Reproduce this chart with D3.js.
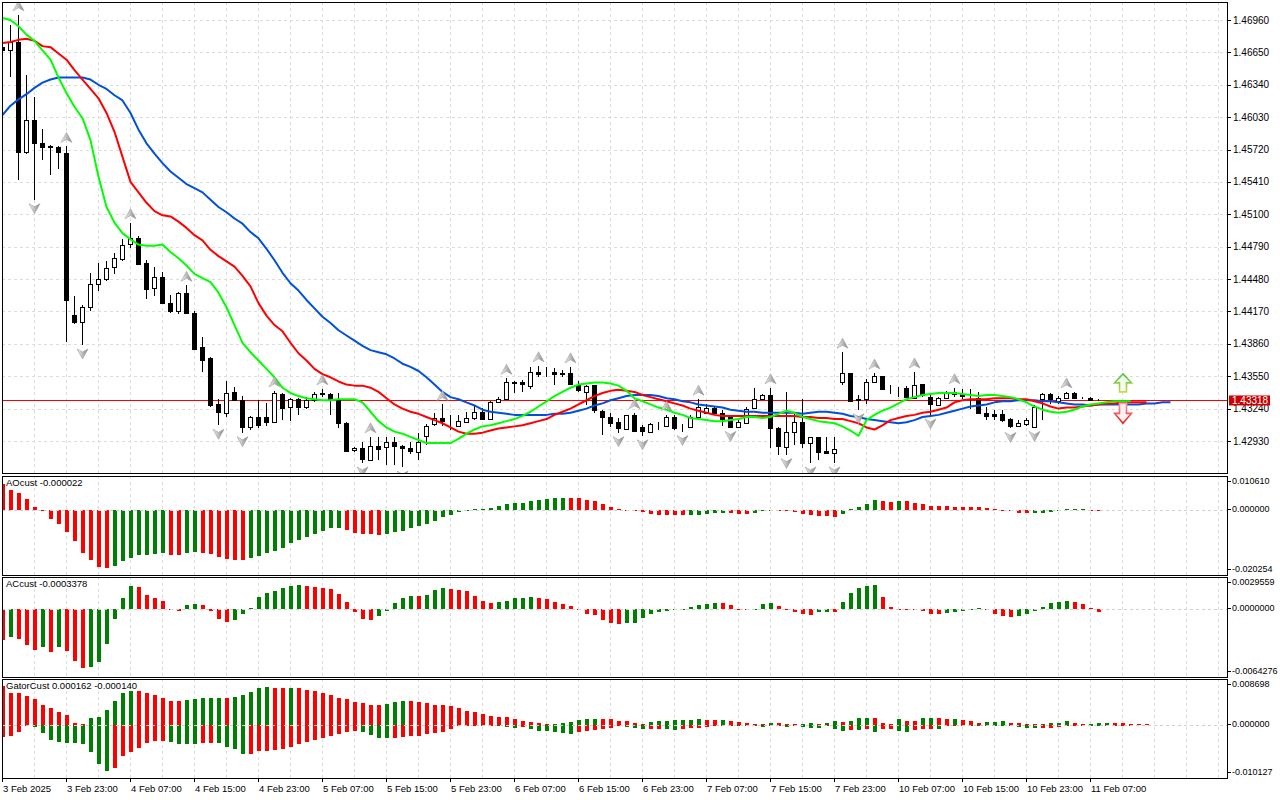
<!DOCTYPE html>
<html>
<head>
<meta charset="utf-8">
<script src="https://cdn.jsdelivr.net/npm/d3@7"></script>
<style>
  html, body { margin: 0; padding: 0; background: #fff; }
  svg { display: block; font-family: "Liberation Sans", Arial, sans-serif; }
</style>
</head>
<body>
<svg id="chart" width="1280" height="800"></svg>
<script>
// hourly bars, 3 Feb 15:00 .. 11 Feb 08:00
const open = [
  1.4670,1.4667,1.4675,1.4569,1.4600,1.4578,1.4575,1.4574,1.4569,1.4414,
  1.4407,1.4421,1.4443,1.4448,1.4459,1.4468,1.4481,1.4487,1.4463,1.4439,
  1.4450,1.4425,1.4418,1.4435,1.4416,1.4383,1.4372,1.4328,1.4320,1.4340,
  1.4332,1.4306,1.4316,1.4316,1.4311,1.4338,1.4325,1.4333,1.4325,1.4332,
  1.4338,1.4338,1.4332,1.4310,1.4284,1.4286,1.4275,1.4288,1.4287,1.4292,
  1.4288,1.4286,1.4282,1.4297,1.4309,1.4315,1.4313,1.4307,1.4311,1.4315,
  1.4321,1.4314,1.4330,1.4333,1.4349,1.4349,1.4346,1.4359,1.4359,1.4359,
  1.4358,1.4358,1.4347,1.4340,1.4347,1.4322,1.4316,1.4311,1.4305,1.4318,
  1.4306,1.4301,1.4308,1.4307,1.4316,1.4307,1.4306,1.4316,1.4320,1.4325,
  1.4320,1.4317,1.4306,1.4311,1.4324,1.4333,1.4337,1.4305,1.4288,1.4301,
  1.4311,1.4291,1.4297,1.4283,1.4281,1.4349,1.4358,1.4333,1.4333,1.4349,
  1.4355,1.4343,1.4344,1.4344,1.4335,1.4348,1.4335,1.4327,1.4334,1.4340,
  1.4338,1.4334,1.4334,1.4320,1.4319,1.4319,1.4314,1.4307,1.4309,1.4307,
  1.4333,1.4338,1.4331,1.4334,1.4339,1.4334,1.4334,1.4332
];
const high = [
  1.4675,1.4691,1.4701,1.4643,1.4622,1.4592,1.4576,1.4575,1.4575,1.4432,
  1.4423,1.4454,1.4463,1.4465,1.4473,1.4486,1.4502,1.4489,1.4466,1.4460,
  1.4455,1.4433,1.4436,1.4442,1.4417,1.4393,1.4373,1.4333,1.4350,1.4345,
  1.4336,1.4317,1.4332,1.4329,1.4341,1.4339,1.4334,1.4334,1.4335,1.4340,
  1.4343,1.4339,1.4339,1.4311,1.4287,1.4292,1.4297,1.4297,1.4297,1.4297,
  1.4289,1.4292,1.4301,1.4309,1.4320,1.4328,1.4318,1.4318,1.4321,1.4327,
  1.4325,1.4331,1.4335,1.4353,1.4350,1.4351,1.4364,1.4365,1.4364,1.4363,
  1.4361,1.4364,1.4350,1.4347,1.4347,1.4323,1.4320,1.4315,1.4318,1.4320,
  1.4308,1.4310,1.4311,1.4318,1.4318,1.4309,1.4318,1.4333,1.4328,1.4326,
  1.4323,1.4318,1.4313,1.4326,1.4344,1.4338,1.4344,1.4306,1.4340,1.4321,
  1.4333,1.4297,1.4297,1.4297,1.4297,1.4378,1.4358,1.4337,1.4352,1.4358,
  1.4355,1.4347,1.4345,1.4346,1.4359,1.4348,1.4337,1.4335,1.4341,1.4344,
  1.4343,1.4343,1.4340,1.4326,1.4323,1.4323,1.4315,1.4313,1.4315,1.4327,
  1.4339,1.4339,1.4336,1.4340,1.4340,1.4335,1.4335,1.4333
];
const low = [
  1.4665,1.4641,1.4543,1.4568,1.4524,1.4562,1.4548,1.4553,1.4388,1.4405,
  1.4385,1.4417,1.4437,1.4446,1.4453,1.4465,1.4478,1.4461,1.4429,1.4432,
  1.4424,1.4416,1.4415,1.4415,1.4380,1.4359,1.4326,1.4308,1.4316,1.4331,
  1.4301,1.4304,1.4305,1.4307,1.4310,1.4313,1.4312,1.4318,1.4324,1.4330,
  1.4335,1.4318,1.4305,1.4282,1.4282,1.4272,1.4274,1.4275,1.4270,1.4270,
  1.4268,1.4281,1.4275,1.4289,1.4307,1.4307,1.4304,1.4306,1.4310,1.4313,
  1.4313,1.4313,1.4329,1.4332,1.4339,1.4340,1.4343,1.4354,1.4354,1.4347,
  1.4354,1.4347,1.4340,1.4327,1.4320,1.4299,1.4306,1.4301,1.4305,1.4303,
  1.4298,1.4301,1.4304,1.4307,1.4304,1.4302,1.4306,1.4315,1.4320,1.4318,
  1.4307,1.4306,1.4306,1.4311,1.4324,1.4333,1.4286,1.4280,1.4280,1.4289,
  1.4286,1.4272,1.4275,1.4281,1.4272,1.4347,1.4330,1.4323,1.4328,1.4349,
  1.4343,1.4338,1.4335,1.4335,1.4335,1.4335,1.4318,1.4327,1.4334,1.4335,
  1.4333,1.4324,1.4320,1.4313,1.4313,1.4311,1.4305,1.4307,1.4307,1.4306,
  1.4313,1.4328,1.4328,1.4334,1.4334,1.4333,1.4331,1.4331
];
const close = [
  1.4667,1.4675,1.4570,1.4600,1.4578,1.4574,1.4574,1.4569,1.4428,1.4407,
  1.4421,1.4443,1.4448,1.4459,1.4468,1.4481,1.4487,1.4462,1.4438,1.4450,
  1.4425,1.4417,1.4435,1.4416,1.4382,1.4371,1.4327,1.4320,1.4339,1.4332,
  1.4306,1.4316,1.4308,1.4311,1.4339,1.4325,1.4333,1.4325,1.4332,1.4338,
  1.4339,1.4332,1.4310,1.4283,1.4286,1.4275,1.4288,1.4285,1.4292,1.4288,
  1.4286,1.4283,1.4292,1.4307,1.4315,1.4312,1.4313,1.4312,1.4315,1.4321,
  1.4314,1.4330,1.4333,1.4349,1.4348,1.4347,1.4359,1.4357,1.4359,1.4357,
  1.4357,1.4347,1.4342,1.4346,1.4323,1.4316,1.4310,1.4305,1.4318,1.4303,
  1.4302,1.4309,1.4308,1.4316,1.4305,1.4307,1.4316,1.4326,1.4325,1.4320,
  1.4314,1.4306,1.4311,1.4324,1.4333,1.4337,1.4305,1.4288,1.4302,1.4311,
  1.4291,1.4297,1.4283,1.4281,1.4285,1.4358,1.4331,1.4332,1.4349,1.4355,
  1.4343,1.4343,1.4344,1.4335,1.4347,1.4337,1.4328,1.4334,1.4340,1.4338,
  1.4336,1.4334,1.4320,1.4317,1.4317,1.4313,1.4307,1.4310,1.4313,1.4326,
  1.4338,1.4333,1.4334,1.4339,1.4334,1.4334,1.4332,1.43318
];

// alligator lines (shifted forward past the last bar)
const jaw = [
  1.4605,1.4614,1.4620,1.4625,1.4631,1.4636,1.4639,1.4641,1.4641,1.4641,
  1.4641,1.4639,1.4634,1.4630,1.4624,1.4619,1.4607,1.4591,1.4578,1.4568,
  1.4559,1.4551,1.4545,1.4539,1.4535,1.4531,1.4524,1.4517,1.4512,1.4506,
  1.4501,1.4493,1.4487,1.4477,1.4466,1.4454,1.4444,1.4437,1.4428,1.4420,
  1.4412,1.4406,1.4399,1.4394,1.4389,1.4384,1.4380,1.4378,1.4376,1.4372,
  1.4367,1.4364,1.4360,1.4354,1.4347,1.4340,1.4335,1.4333,1.4330,1.4327,
  1.4323,1.4321,1.4320,1.4319,1.4318,1.4318,1.4318,1.4318,1.4318,1.4319,
  1.4319,1.4320,1.4322,1.4324,1.4327,1.4329,1.4332,1.4334,1.4336,1.4337,
  1.4337,1.4337,1.4336,1.4334,1.4333,1.4331,1.4330,1.4328,1.4327,1.4326,
  1.4325,1.4323,1.4322,1.4321,1.4321,1.4320,1.4320,1.4320,1.4320,1.4320,
  1.4319,1.4320,1.4321,1.4321,1.4320,1.4319,1.4317,1.4316,1.4314,1.4313,
  1.4312,1.4311,1.4310,1.4311,1.4313,1.4316,1.4317,1.4318,1.4320,1.4322,
  1.4324,1.4326,1.4327,1.4328,1.4330,1.4331,1.4331,1.4332,1.4332,1.4332,
  1.4331,1.4331,1.4330,1.4329,1.4328,1.4328,1.4327,1.4328,1.4328,1.4328,
  1.4328,1.4328,1.4328,1.4329,1.4329,1.4330,1.4330
];
const teeth = [
  1.4674,1.4675,1.4677,1.4678,1.4676,1.4671,1.4670,1.4664,1.4658,1.4648,
  1.4639,1.4630,1.4621,1.4607,1.4589,1.4565,1.4541,1.4531,1.4521,1.4513,
  1.4509,1.4508,1.4503,1.4497,1.4490,1.4485,1.4476,1.4470,1.4465,1.4460,
  1.4451,1.4441,1.4425,1.4413,1.4404,1.4398,1.4387,1.4377,1.4370,1.4362,
  1.4357,1.4354,1.4350,1.4347,1.4346,1.4346,1.4344,1.4340,1.4334,1.4328,
  1.4324,1.4321,1.4319,1.4316,1.4313,1.4310,1.4306,1.4302,1.4300,1.4300,
  1.4301,1.4303,1.4305,1.4306,1.4307,1.4308,1.4310,1.4312,1.4314,1.4318,
  1.4321,1.4324,1.4328,1.4332,1.4336,1.4339,1.4341,1.4342,1.4341,1.4340,
  1.4337,1.4335,1.4333,1.4331,1.4329,1.4327,1.4324,1.4322,1.4320,1.4318,
  1.4317,1.4317,1.4317,1.4317,1.4317,1.4317,1.4317,1.4317,1.4317,1.4317,
  1.4316,1.4316,1.4315,1.4315,1.4314,1.4314,1.4312,1.4310,1.4306,1.4304,
  1.4308,1.4313,1.4315,1.4317,1.4318,1.4320,1.4321,1.4323,1.4325,1.4330,
  1.4332,1.4333,1.4333,1.4333,1.4334,1.4334,1.4334,1.4333,1.4333,1.4331,
  1.4329,1.4326,1.4324,1.4325,1.4325,1.4326,1.4327,1.4328,1.4329,1.4329,
  1.4330,1.4330,1.4330,1.4330
];
const lips = [
  1.4698,1.4696,1.4690,1.4682,1.4676,1.4667,1.4658,1.4641,1.4626,1.4613,
  1.4602,1.4581,1.4546,1.4517,1.4502,1.4492,1.4486,1.4481,1.4480,1.4480,
  1.4481,1.4474,1.4468,1.4461,1.4453,1.4449,1.4445,1.4435,1.4421,1.4404,
  1.4387,1.4378,1.4370,1.4362,1.4354,1.4344,1.4339,1.4336,1.4334,1.4333,
  1.4332,1.4332,1.4333,1.4333,1.4333,1.4330,1.4321,1.4312,1.4306,1.4302,
  1.4300,1.4297,1.4294,1.4291,1.4291,1.4291,1.4291,1.4295,1.4300,1.4304,
  1.4307,1.4308,1.4310,1.4312,1.4314,1.4317,1.4321,1.4326,1.4331,1.4336,
  1.4340,1.4344,1.4347,1.4348,1.4349,1.4349,1.4348,1.4346,1.4341,1.4334,
  1.4331,1.4328,1.4325,1.4323,1.4320,1.4318,1.4315,1.4314,1.4313,1.4312,
  1.4312,1.4313,1.4314,1.4316,1.4316,1.4315,1.4316,1.4319,1.4322,1.4320,
  1.4316,1.4314,1.4312,1.4311,1.4310,1.4307,1.4303,1.4298,1.4313,1.4318,
  1.4322,1.4325,1.4329,1.4333,1.4335,1.4337,1.4338,1.4339,1.4339,1.4339,
  1.4338,1.4337,1.4336,1.4337,1.4337,1.4336,1.4335,1.4333,1.4330,1.4326,
  1.4323,1.4321,1.4320,1.4321,1.4323,1.4326,1.4328,1.4329,1.4330,1.4331,
  1.4331,1.4331
];

// bar indices carrying a fractal arrow
const fractalUp = [2, 8, 16, 23, 34, 40, 46, 55, 63, 67, 71, 79, 83, 87, 96, 105, 109, 114, 119, 133];
const fractalDown = [4, 10, 27, 30, 45, 50, 77, 80, 85, 91, 98, 101, 104, 107, 116, 126, 129];

// signal arrows at the right edge
const signalBar = 140;
const buyLevel = 1.4340;
const sellLevel = 1.4330;
const lastPrice = 1.43318;

const ao = [
  0.0080,0.0061,0.0053,0.0035,0.0010,-0.0001,-0.0028,-0.0043,-0.0069,-0.0098,
  -0.0133,-0.0156,-0.0177,-0.0180,-0.0175,-0.0159,-0.0148,-0.0140,-0.0139,-0.0136,
  -0.0133,-0.0140,-0.0141,-0.0133,-0.0130,-0.0133,-0.0136,-0.0147,-0.0154,-0.0155,
  -0.0156,-0.0151,-0.0142,-0.0134,-0.0127,-0.0117,-0.0104,-0.0093,-0.0085,-0.0075,
  -0.0066,-0.0057,-0.0055,-0.0061,-0.0071,-0.0074,-0.0076,-0.0079,-0.0076,-0.0069,
  -0.0064,-0.0057,-0.0050,-0.0044,-0.0035,-0.0022,-0.0014,-0.0005,0.0001,0.0003,
  0.0004,0.0007,0.0012,0.0018,0.0021,0.0023,0.0029,0.0031,0.0035,0.0037,
  0.0038,0.0037,0.0036,0.0032,0.0027,0.0019,0.0010,0.0002,-0.0002,-0.0003,
  -0.0005,-0.0011,-0.0014,-0.00142,-0.00145,-0.0016,-0.00155,-0.0014,-0.0012,-0.0010,
  -0.0009,-0.00095,-0.0011,-0.0012,-0.0010,-0.0004,-0.0002,-0.00025,-0.0003,-0.0006,
  -0.0012,-0.0016,-0.0018,-0.0020,-0.0021,-0.0012,0.0002,0.0011,0.0019,0.0032,
  0.0027,0.00265,0.0027,0.00268,0.0023,0.0019,0.0014,0.0013,0.00125,0.0011,
  0.0010,0.00095,0.0009,0.0005,0.0003,0.0000,-0.0003,-0.0010,-0.00105,-0.0010,
  -0.0008,-0.0005,-0.0001,0.0002,0.00025,0.0003,0.0001,-0.000022
];
const ac = [
  -0.0030,-0.0027,-0.0029,-0.0034,-0.0039,-0.0036,-0.0041,-0.0036,-0.0040,-0.0049,
  -0.0056,-0.0055,-0.0050,-0.0033,-0.0010,0.0010,0.0021,0.0020,0.0013,0.0010,
  0.0007,-0.00005,-0.0002,0.0003,0.0004,0.0003,-0.0002,-0.0010,-0.0013,-0.0011,
  -0.0005,0.00005,0.0011,0.0015,0.0016,0.0019,0.0021,0.0022,0.0021,0.0020,
  0.0019,0.0018,0.0014,0.0006,-0.0003,-0.0010,-0.0011,-0.0007,-0.0002,0.0005,
  0.0010,0.0012,0.00118,0.0013,0.0017,0.0019,0.0018,0.00178,0.0016,0.0012,
  0.0007,0.0005,0.0006,0.0007,0.0010,0.00102,0.0011,0.0010,0.0009,0.0006,
  0.0004,0.0002,-0.00003,-0.0005,-0.0006,-0.0011,-0.0014,-0.0015,-0.0014,-0.00138,
  -0.0009,-0.0005,-0.0003,-0.0002,-0.0001,0.0000,0.0001,0.0003,0.0004,0.0005,
  0.00048,0.0003,0.0000,-0.0001,-0.00005,0.0004,0.0005,0.0002,0.0000,-0.0003,
  -0.0005,-0.0006,-0.0003,-0.00029,-0.00031,0.0006,0.0015,0.0019,0.0021,0.0022,
  0.0011,0.0001,0.0000,-0.0001,-0.00012,-0.0002,-0.0005,-0.00056,-0.0004,-0.0003,
  -0.0002,-0.00005,0.00002,-0.0001,-0.0005,-0.0007,-0.0008,-0.0007,-0.0005,-0.0002,
  0.0001,0.0005,0.0006,0.0007,0.0006,0.0004,0.00005,-0.0003378
];
const gatorUp = [
  0.0074,0.0061,0.0060,0.0054,0.0048,0.0038,0.0031,0.0024,0.0018,0.0004,
  0.0002,0.0012,0.0015,0.0028,0.0046,0.0060,0.0065,0.0064,0.0061,0.0056,
  0.0051,0.0046,0.0045,0.0047,0.0049,0.0050,0.00502,0.0051,0.0050,0.0052,
  0.0056,0.0063,0.0069,0.0071,0.00705,0.0069,0.00695,0.0069,0.0067,0.0064,
  0.0060,0.0056,0.0051,0.0048,0.0044,0.0041,0.0038,0.00378,0.0039,0.0043,
  0.0046,0.0045,0.0043,0.0041,0.0038,0.0037,0.0035,0.0031,0.0027,0.0024,
  0.0020,0.0016,0.0014,0.00138,0.0010,0.0007,0.0005,0.0004,0.0001,0.0002,
  0.0004,0.0005,0.0009,0.0010,0.00105,0.00104,0.0010,0.0008,0.0007,0.0004,
  0.0001,0.0005,0.0007,0.00072,0.0009,0.00092,0.00094,0.0011,0.0009,0.00088,
  0.0009,0.0007,0.0005,0.0004,0.00015,0.0001,0.0004,0.0003,0.0002,0.00015,
  0.0002,0.00025,0.0001,0.0004,0.0007,0.0006,0.0007,0.0012,0.0013,0.0012,
  0.0003,0.0002,0.0010,0.0007,0.00068,0.0012,0.00125,0.0012,0.0010,0.0011,
  0.0009,0.0007,0.0004,0.0005,0.0006,0.0007,0.0004,0.0003,0.00015,0.0001,
  0.0002,0.0004,0.00042,0.0007,0.0003,0.00015,0.0002,0.00025,0.0003,0.00028,
  0.00026,0.00022,0.0002,0.000162
];
const gatorDown = [
  -0.0024,-0.0021,-0.0014,-0.0001,-0.0005,-0.0016,-0.0029,-0.0033,-0.0034,-0.00345,
  -0.0036,-0.0052,-0.0075,-0.0088,-0.0082,-0.0060,-0.0052,-0.0044,-0.0034,-0.0031,
  -0.00305,-0.0033,-0.0036,-0.00362,-0.00365,-0.0035,-0.0034,-0.00342,-0.0042,-0.0047,
  -0.0056,-0.0055,-0.0050,-0.0049,-0.0048,-0.0047,-0.0042,-0.0036,-0.0033,-0.0029,
  -0.0025,-0.0021,-0.0018,-0.0013,-0.0012,-0.0014,-0.0019,-0.0025,-0.00255,-0.0025,
  -0.0023,-0.0022,-0.0021,-0.0018,-0.0016,-0.0014,-0.0009,-0.0003,-0.0001,-0.00005,
  -0.00015,-0.0001,-0.0003,-0.0005,-0.0006,-0.0005,-0.0008,-0.0011,-0.0012,-0.0013,
  -0.0016,-0.0017,-0.0014,-0.0012,-0.0010,-0.0008,-0.0006,-0.0003,-0.00035,-0.0006,
  -0.0008,-0.00078,-0.00076,-0.0009,-0.0010,-0.0008,-0.0007,-0.0006,-0.0005,-0.0003,
  -0.0001,-0.00008,-0.00015,-0.0003,-0.00032,-0.00034,-0.0001,-0.0003,-0.0005,-0.0003,
  -0.0005,-0.0006,-0.00062,-0.0001,-0.0009,-0.0011,-0.0010,-0.00105,-0.0008,-0.0014,
  -0.0009,-0.0008,-0.0011,-0.0014,-0.0010,-0.0009,-0.0008,-0.00082,-0.0003,-0.0001,
  -0.00005,-0.0001,-0.0003,-0.0001,-0.00015,-0.0003,-0.00032,-0.0005,-0.0006,-0.00065,
  -0.0006,-0.00058,-0.0005,-0.00015,-0.0001,-0.00012,-0.0003,-0.00032,-0.0002,-0.00016,
  -0.00013,-0.00014
];

const priceTicks = [1.4696, 1.4665, 1.4634, 1.4603, 1.4572, 1.4541, 1.4510,
  1.4479, 1.4448, 1.4417, 1.4386, 1.4355, 1.4324, 1.4293];
const dateLabels = ["3 Feb 2025", "3 Feb 23:00", "4 Feb 07:00", "4 Feb 15:00", "4 Feb 23:00",
  "5 Feb 07:00", "5 Feb 15:00", "5 Feb 23:00", "6 Feb 07:00", "6 Feb 15:00", "6 Feb 23:00",
  "7 Feb 07:00", "7 Feb 15:00", "7 Feb 23:00", "10 Feb 07:00", "10 Feb 15:00",
  "10 Feb 23:00", "11 Feb 07:00"];
const barsPerLabel = 8;

const aoRange = [-0.020254, 0.010610];
const acRange = [-0.0064276, 0.0029559];
const gatorRange = [-0.010127, 0.008698];
const aoTicks = ["0.010610", "0.000000", "-0.020254"];
const acTicks = ["0.0029559", "0.0000000", "-0.0064276"];
const gatorTicks = ["0.008698", "0.000000", "-0.010127"];
const aoTitle = "AOcust -0.000022";
const acTitle = "ACcust -0.0003378";
const gatorTitle = "GatorCust 0.000162 -0.000140";

// ---------- layout ----------
const left = 2, axisX = 1227;
const mainBox = { top: 2, bottom: 473 };
const aoBox = { top: 476, bottom: 575 };
const acBox = { top: 577, bottom: 677 };
const gatorBox = { top: 679, bottom: 778 };

const GREEN = "#008000", RED = "#ff0000";
const gridColor = "#dcdcdc";

const svg = d3.select("#chart");
const defs = svg.append("defs");

const x = d3.scaleLinear().domain([0, 137]).range([2, 1098]);
const yMain = d3.scaleLinear().domain([1.4293, 1.4696]).range([441, 20]);
const yAO = d3.scaleLinear().domain(aoRange).range([aoBox.bottom, aoBox.top]);
const yAC = d3.scaleLinear().domain(acRange).range([acBox.bottom, acBox.top]);
const yGator = d3.scaleLinear().domain(gatorRange).range([gatorBox.bottom, gatorBox.top]);

const addClip = (id, box) => {
  defs.append("clipPath").attr("id", id)
    .append("rect")
    .attr("x", left).attr("y", box.top)
    .attr("width", axisX - left).attr("height", box.bottom - box.top);
};
addClip("clipMain", mainBox);
addClip("clipAO", aoBox);
addClip("clipAC", acBox);
addClip("clipGator", gatorBox);

// fractal arrow shading
const fg = defs.append("linearGradient").attr("id", "fracFill")
  .attr("x1", "0").attr("y1", "0").attr("x2", "1").attr("y2", "0");
fg.append("stop").attr("offset", "0").attr("stop-color", "#f4f4f4");
fg.append("stop").attr("offset", "0.5").attr("stop-color", "#bcbcbc");
fg.append("stop").attr("offset", "1").attr("stop-color", "#808080");

const buyGrad = defs.append("linearGradient").attr("id", "buyStroke")
  .attr("x1", "0").attr("y1", "0").attr("x2", "0").attr("y2", "1");
buyGrad.append("stop").attr("offset", "0").attr("stop-color", "#4cc44c");
buyGrad.append("stop").attr("offset", "1").attr("stop-color", "#c8d84a");
const sellGrad = defs.append("linearGradient").attr("id", "sellStroke")
  .attr("x1", "0").attr("y1", "0").attr("x2", "0").attr("y2", "1");
sellGrad.append("stop").attr("offset", "0").attr("stop-color", "#ff9aa8");
sellGrad.append("stop").attr("offset", "1").attr("stop-color", "#e02020");

// ---------- grid ----------
const gridX = d3.range(4, 153, 4).map(i => x(i));

const drawVGrid = box => {
  svg.append("g").selectAll("line").data(gridX).enter().append("line")
    .attr("x1", d => d + 0.5).attr("x2", d => d + 0.5)
    .attr("y1", box.top).attr("y2", box.bottom)
    .attr("stroke", gridColor).attr("stroke-dasharray", "3,3");
};
[mainBox, aoBox, acBox, gatorBox].forEach(drawVGrid);

svg.append("g").selectAll("line").data(priceTicks).enter().append("line")
  .attr("x1", left).attr("x2", axisX)
  .attr("y1", d => Math.round(yMain(d)) + 0.5).attr("y2", d => Math.round(yMain(d)) + 0.5)
  .attr("stroke", gridColor).attr("stroke-dasharray", "3,3");

// ---------- main panel ----------
const main = svg.append("g").attr("clip-path", "url(#clipMain)");

main.append("line")
  .attr("x1", left).attr("x2", axisX)
  .attr("y1", Math.round(yMain(lastPrice)) + 0.5).attr("y2", Math.round(yMain(lastPrice)) + 0.5)
  .attr("stroke", RED);

const candles = main.append("g").attr("shape-rendering", "crispEdges");
const idx = d3.range(open.length);

candles.selectAll("line.wick").data(idx).enter().append("line")
  .attr("class", "wick")
  .attr("x1", i => x(i) + 0.5).attr("x2", i => x(i) + 0.5)
  .attr("y1", i => yMain(high[i])).attr("y2", i => yMain(low[i]))
  .attr("stroke", "#000");

candles.selectAll("rect.body").data(idx).enter().append("rect")
  .attr("class", "body")
  .attr("x", i => x(i) - 1.5)
  .attr("width", 4)
  .attr("y", i => Math.round(yMain(Math.max(open[i], close[i]))) + 0.5)
  .attr("height", i => Math.max(0, Math.round(Math.abs(yMain(open[i]) - yMain(close[i])))))
  .attr("fill", i => close[i] > open[i] ? "#fff" : "#000")
  .attr("stroke", "#000");

const lineGen = d3.line().x((d, i) => x(i) + 0.5).y(d => yMain(d));
[[jaw, "#0050dc"], [teeth, "#ff0000"], [lips, "#00ff00"]].forEach(([data, color]) => {
  main.append("path").datum(data)
    .attr("d", lineGen)
    .attr("fill", "none")
    .attr("stroke", color)
    .attr("stroke-width", 2)
    .attr("stroke-linejoin", "round");
});

const upArrow = "M0,-5 L5.5,5 L0,2 L-5.5,5 Z";
const downArrow = "M0,5 L5.5,-5 L0,-2 L-5.5,-5 Z";
main.append("g").selectAll("path").data(fractalUp).enter().append("path")
  .attr("d", upArrow)
  .attr("transform", i => `translate(${x(i) + 0.5},${yMain(high[i]) - 9})`)
  .attr("fill", "url(#fracFill)").attr("stroke", "#a0a0a0").attr("stroke-width", 0.6);
main.append("g").selectAll("path").data(fractalDown).enter().append("path")
  .attr("d", downArrow)
  .attr("transform", i => `translate(${x(i) + 0.5},${yMain(low[i]) + 9})`)
  .attr("fill", "url(#fracFill)").attr("stroke", "#a0a0a0").attr("stroke-width", 0.6);

main.append("path")
  .attr("d", "M0,-18 L8.5,-9 L3.5,-9 L3.5,0 L-3.5,0 L-3.5,-9 L-8.5,-9 Z")
  .attr("transform", `translate(${x(signalBar) + 1},${yMain(buyLevel)})`)
  .attr("fill", "#f4fff0").attr("stroke", "url(#buyStroke)").attr("stroke-width", 1.6);
main.append("path")
  .attr("d", "M0,20 L8.5,10 L3.5,10 L3.5,0 L-3.5,0 L-3.5,10 L-8.5,10 Z")
  .attr("transform", `translate(${x(signalBar) + 1},${yMain(sellLevel) + 1})`)
  .attr("fill", "#fff2f2").attr("stroke", "url(#sellStroke)").attr("stroke-width", 1.6);

// ---------- histogram panels ----------
const risingColor = (values, useAbs) => (d, i) => {
  if (i === 0) return RED;
  const cur = useAbs ? Math.abs(d) : d;
  const prev = useAbs ? Math.abs(values[i - 1]) : values[i - 1];
  return cur > prev ? GREEN : RED;
};

const drawHist = (g, values, y, colorFn) => {
  const zero = Math.round(y(0));
  g.append("g").attr("shape-rendering", "crispEdges")
    .selectAll("rect").data(values).enter().append("rect")
    .attr("x", (d, i) => x(i) - 1)
    .attr("width", 4)
    .attr("y", d => d >= 0 ? Math.round(y(d)) : zero)
    .attr("height", d => Math.max(1, Math.abs(Math.round(y(d)) - zero)))
    .attr("fill", colorFn);
};

const zeroLine = (g, y) => {
  g.append("line")
    .attr("x1", left).attr("x2", axisX)
    .attr("y1", Math.round(y(0)) + 0.5).attr("y2", Math.round(y(0)) + 0.5)
    .attr("stroke", "#d0d0d0").attr("stroke-dasharray", "3,3");
};

const gAO = svg.append("g").attr("clip-path", "url(#clipAO)");
drawHist(gAO, ao, yAO, risingColor(ao, false));
zeroLine(gAO, yAO);

const gAC = svg.append("g").attr("clip-path", "url(#clipAC)");
drawHist(gAC, ac, yAC, risingColor(ac, false));
zeroLine(gAC, yAC);

const gGator = svg.append("g").attr("clip-path", "url(#clipGator)");
drawHist(gGator, gatorUp, yGator, risingColor(gatorUp, true));
drawHist(gGator, gatorDown, yGator, risingColor(gatorDown, true));
zeroLine(gGator, yGator);

// ---------- frames ----------
[mainBox, aoBox, acBox, gatorBox].forEach(b => {
  svg.append("rect")
    .attr("x", left + 0.5).attr("y", b.top + 0.5)
    .attr("width", axisX - left).attr("height", b.bottom - b.top)
    .attr("fill", "none").attr("stroke", "#000");
});

// ---------- right axis ----------
const axisG = svg.append("g").attr("font-size", "10px").attr("fill", "#000");

axisG.selectAll("text.price").data(priceTicks).enter().append("text")
  .attr("class", "price")
  .attr("x", axisX + 6).attr("y", d => yMain(d))
  .attr("dominant-baseline", "central")
  .text(d => d.toFixed(5));
axisG.selectAll("line.ptick").data(priceTicks).enter().append("line")
  .attr("x1", axisX).attr("x2", axisX + 4)
  .attr("y1", d => Math.round(yMain(d)) + 0.5).attr("y2", d => Math.round(yMain(d)) + 0.5)
  .attr("stroke", "#000");

const subAxis = (box, y, labels) => {
  const pos = [box.top + 5, y(0) - 1, box.bottom - 6];
  labels.forEach((t, k) => {
    axisG.append("text")
      .attr("x", axisX + 5).attr("y", pos[k])
      .attr("font-size", "9px")
      .attr("dominant-baseline", "central")
      .text(t);
    axisG.append("line")
      .attr("x1", axisX).attr("x2", axisX + 4)
      .attr("y1", Math.round(pos[k]) + 0.5).attr("y2", Math.round(pos[k]) + 0.5)
      .attr("stroke", "#000");
  });
};
subAxis(aoBox, yAO, aoTicks);
subAxis(acBox, yAC, acTicks);
subAxis(gatorBox, yGator, gatorTicks);

// current price tag
const tagY = yMain(lastPrice);
axisG.append("rect")
  .attr("x", axisX + 2).attr("y", tagY - 5)
  .attr("width", 41).attr("height", 10)
  .attr("fill", "#cc0000");
axisG.append("text")
  .attr("x", axisX + 5).attr("y", tagY)
  .attr("dominant-baseline", "central")
  .attr("fill", "#fff")
  .text(lastPrice.toFixed(5));

// ---------- titles ----------
const titles = [[aoTitle, aoBox], [acTitle, acBox], [gatorTitle, gatorBox]];
svg.append("g").attr("font-size", "9.5px").selectAll("text").data(titles).enter().append("text")
  .attr("x", 6).attr("y", d => d[1].top + 10)
  .text(d => d[0]);

// ---------- date axis ----------
const dateG = svg.append("g").attr("font-size", "9.5px");
dateLabels.forEach((t, k) => {
  const xi = x(k * barsPerLabel);
  dateG.append("line")
    .attr("x1", xi + 0.5).attr("x2", xi + 0.5)
    .attr("y1", gatorBox.bottom).attr("y2", gatorBox.bottom + 4)
    .attr("stroke", "#000");
  dateG.append("text")
    .attr("x", xi + 1).attr("y", gatorBox.bottom + 14)
    .text(t);
});
</script>
</body>
</html>
